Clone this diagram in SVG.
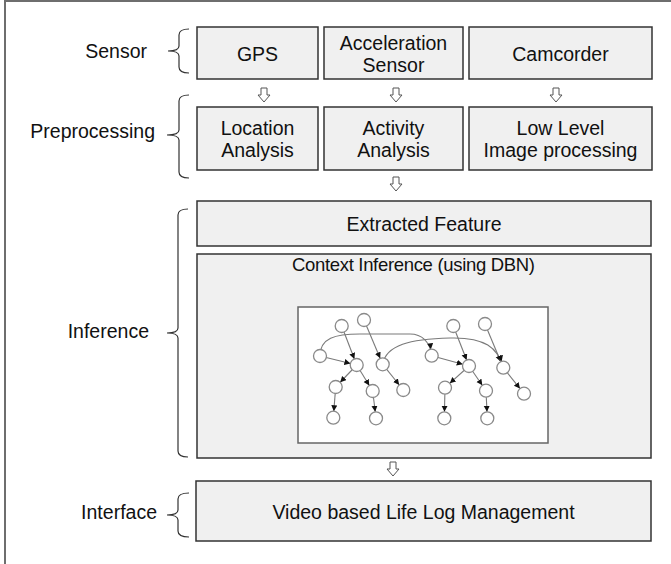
<svg xmlns="http://www.w3.org/2000/svg" width="671" height="564" viewBox="0 0 671 564">
  <style>
    .box { fill: #f0f0f0; stroke: #333; stroke-width: 1.5; }
    .txt { font-family: "Liberation Sans", Arial, sans-serif; font-size: 19.5px; fill: #111; }
    .mid { text-anchor: middle; }
    .lbl { text-anchor: end; }
    .brace { fill: none; stroke: #333; stroke-width: 1.2; }
    .flow { fill: #fff; stroke: #555; stroke-width: 1; }
    .edge { fill: none; stroke: #7a7a7a; stroke-width: 1.1; marker-end: url(#tip); }
    .node { fill: #fff; stroke: #8a8a8a; stroke-width: 1.3; }
  </style>
  <defs>
    <!-- hollow block arrow pointing down, top centre at origin -->
    <path id="down" class="flow" d="M-3,0 H3 V7 H6 L0,14 L-6,7 H-3 Z"/>
    <!-- small filled head; tip sits on the edge of a radius-6.5 node -->
    <marker id="tip" markerUnits="userSpaceOnUse" markerWidth="14" markerHeight="7" refX="12.5" refY="3" orient="auto">
      <path d="M0,0 L6,3 L0,6 Z" fill="#111"/>
    </marker>
  </defs>

  <rect width="671" height="564" fill="#fff"/>
  <path d="M5,564 V1 H671" fill="none" stroke="#6e6e6e" stroke-width="2"/>

  <!-- layer labels with braces -->
  <g id="layer-sensor">
    <text class="txt lbl" x="147" y="58">Sensor</text>
    <path class="brace" d="M189,29 Q179,29 179,35 V46 Q179,51 168,51 Q179,51 179,56 V67 Q179,73 189,73"/>
  </g>
  <g id="layer-preprocessing">
    <text class="txt lbl" x="155" y="138">Preprocessing</text>
    <path class="brace" d="M189,95 Q179,95 179,101 V130 Q179,135 167,135 Q179,135 179,140 V172 Q179,178 189,178"/>
  </g>
  <g id="layer-inference">
    <text class="txt lbl" x="149" y="338">Inference</text>
    <path class="brace" d="M188,209 Q178,209 178,215 V328 Q178,333 167,333 Q178,333 178,338 V451 Q178,457 188,457"/>
  </g>
  <g id="layer-interface">
    <text class="txt lbl" x="157" y="519">Interface</text>
    <path class="brace" d="M189,493 Q178,493 178,499 V510 Q178,515 167,515 Q178,515 178,520 V531 Q178,537 189,537"/>
  </g>

  <!-- sensor row -->
  <g id="gps">
    <rect class="box" x="197" y="27" width="121" height="52"/>
    <text class="txt mid" x="257.5" y="61">GPS</text>
  </g>
  <g id="acceleration-sensor">
    <rect class="box" x="324" y="27" width="139" height="52"/>
    <text class="txt mid" x="393.5" y="50">Acceleration</text>
    <text class="txt mid" x="393.5" y="71.5">Sensor</text>
  </g>
  <g id="camcorder">
    <rect class="box" x="469" y="27" width="183" height="52"/>
    <text class="txt mid" x="560.5" y="60.5">Camcorder</text>
  </g>

  <!-- preprocessing row -->
  <g id="location-analysis">
    <rect class="box" x="197" y="107" width="121" height="63"/>
    <text class="txt mid" x="257.5" y="135">Location</text>
    <text class="txt mid" x="257.5" y="157">Analysis</text>
  </g>
  <g id="activity-analysis">
    <rect class="box" x="324" y="107" width="139" height="63"/>
    <text class="txt mid" x="393.5" y="135">Activity</text>
    <text class="txt mid" x="393.5" y="157">Analysis</text>
  </g>
  <g id="image-processing">
    <rect class="box" x="469" y="107" width="183" height="63"/>
    <text class="txt mid" x="560.5" y="135">Low Level</text>
    <text class="txt mid" x="560.5" y="157">Image processing</text>
  </g>

  <!-- inference -->
  <g id="extracted-feature">
    <rect class="box" x="197" y="201" width="454" height="45"/>
    <text class="txt mid" x="424" y="230.5">Extracted Feature</text>
  </g>
  <g id="context-inference">
    <rect class="box" x="197" y="254" width="454" height="204"/>
    <text class="txt" x="292" y="271" style="font-size:18.5px" textLength="243" lengthAdjust="spacing">Context Inference (using DBN)</text>
    <rect x="298" y="307" width="250" height="136" fill="#fff" stroke="#666" stroke-width="1.5"/>
  </g>

  <!-- interface -->
  <g id="life-log-management">
    <rect class="box" x="196" y="481" width="455" height="60"/>
    <text class="txt mid" x="423.5" y="519">Video based Life Log Management</text>
  </g>

  <!-- flow arrows between stages -->
  <g id="connectors">
    <use href="#down" x="264" y="88"/>
    <use href="#down" x="396" y="88"/>
    <use href="#down" x="556" y="88"/>
    <use href="#down" x="396" y="177"/>
    <use href="#down" x="393" y="462"/>
  </g>

  <!-- dynamic Bayesian network sketch -->
  <g id="dbn-edges">
    <path class="edge" d="M341.7,326 L356.7,365"/>
    <path class="edge" d="M364,320 L382.7,364.3"/>
    <path class="edge" d="M320,356 L356.7,365"/>
    <path class="edge" d="M356.7,365 L335.7,387"/>
    <path class="edge" d="M356.7,365 L372.7,391"/>
    <path class="edge" d="M382.7,364.3 L403.3,390"/>
    <path class="edge" d="M335.7,387 L333.3,417.7"/>
    <path class="edge" d="M372.7,391 L376,418.3"/>
    <path class="edge" d="M453.3,326 L469,366"/>
    <path class="edge" d="M485,324 L503.3,367.7"/>
    <path class="edge" d="M431.7,355.7 L469,366"/>
    <path class="edge" d="M469,366 L445,387.7"/>
    <path class="edge" d="M469,366 L486,390.7"/>
    <path class="edge" d="M503.3,367.7 L524,393.7"/>
    <path class="edge" d="M445,387.7 L444.3,418.3"/>
    <path class="edge" d="M486,390.7 L487.3,418.3"/>
    <path class="edge" d="M320,356 C320,338 335,334 360,334 L410,334 C422,334 430,342 431.7,355.7"/>
    <path class="edge" d="M382.7,364.3 C386,345 410,339 450,338 C485,337 498,348 503.3,367.7"/>
  </g>
  <g id="dbn-nodes">
    <circle class="node" cx="341.7" cy="326" r="6.5"/>
    <circle class="node" cx="364" cy="320" r="6.5"/>
    <circle class="node" cx="320" cy="356" r="6.5"/>
    <circle class="node" cx="356.7" cy="365" r="6.5"/>
    <circle class="node" cx="382.7" cy="364.3" r="6.5"/>
    <circle class="node" cx="335.7" cy="387" r="6.5"/>
    <circle class="node" cx="372.7" cy="391" r="6.5"/>
    <circle class="node" cx="403.3" cy="390" r="6.5"/>
    <circle class="node" cx="333.3" cy="417.7" r="6.5"/>
    <circle class="node" cx="376" cy="418.3" r="6.5"/>
    <circle class="node" cx="453.3" cy="326" r="6.5"/>
    <circle class="node" cx="485" cy="324" r="6.5"/>
    <circle class="node" cx="431.7" cy="355.7" r="6.5"/>
    <circle class="node" cx="469" cy="366" r="6.5"/>
    <circle class="node" cx="503.3" cy="367.7" r="6.5"/>
    <circle class="node" cx="445" cy="387.7" r="6.5"/>
    <circle class="node" cx="486" cy="390.7" r="6.5"/>
    <circle class="node" cx="524" cy="393.7" r="6.5"/>
    <circle class="node" cx="444.3" cy="418.3" r="6.5"/>
    <circle class="node" cx="487.3" cy="418.3" r="6.5"/>
  </g>
</svg>
